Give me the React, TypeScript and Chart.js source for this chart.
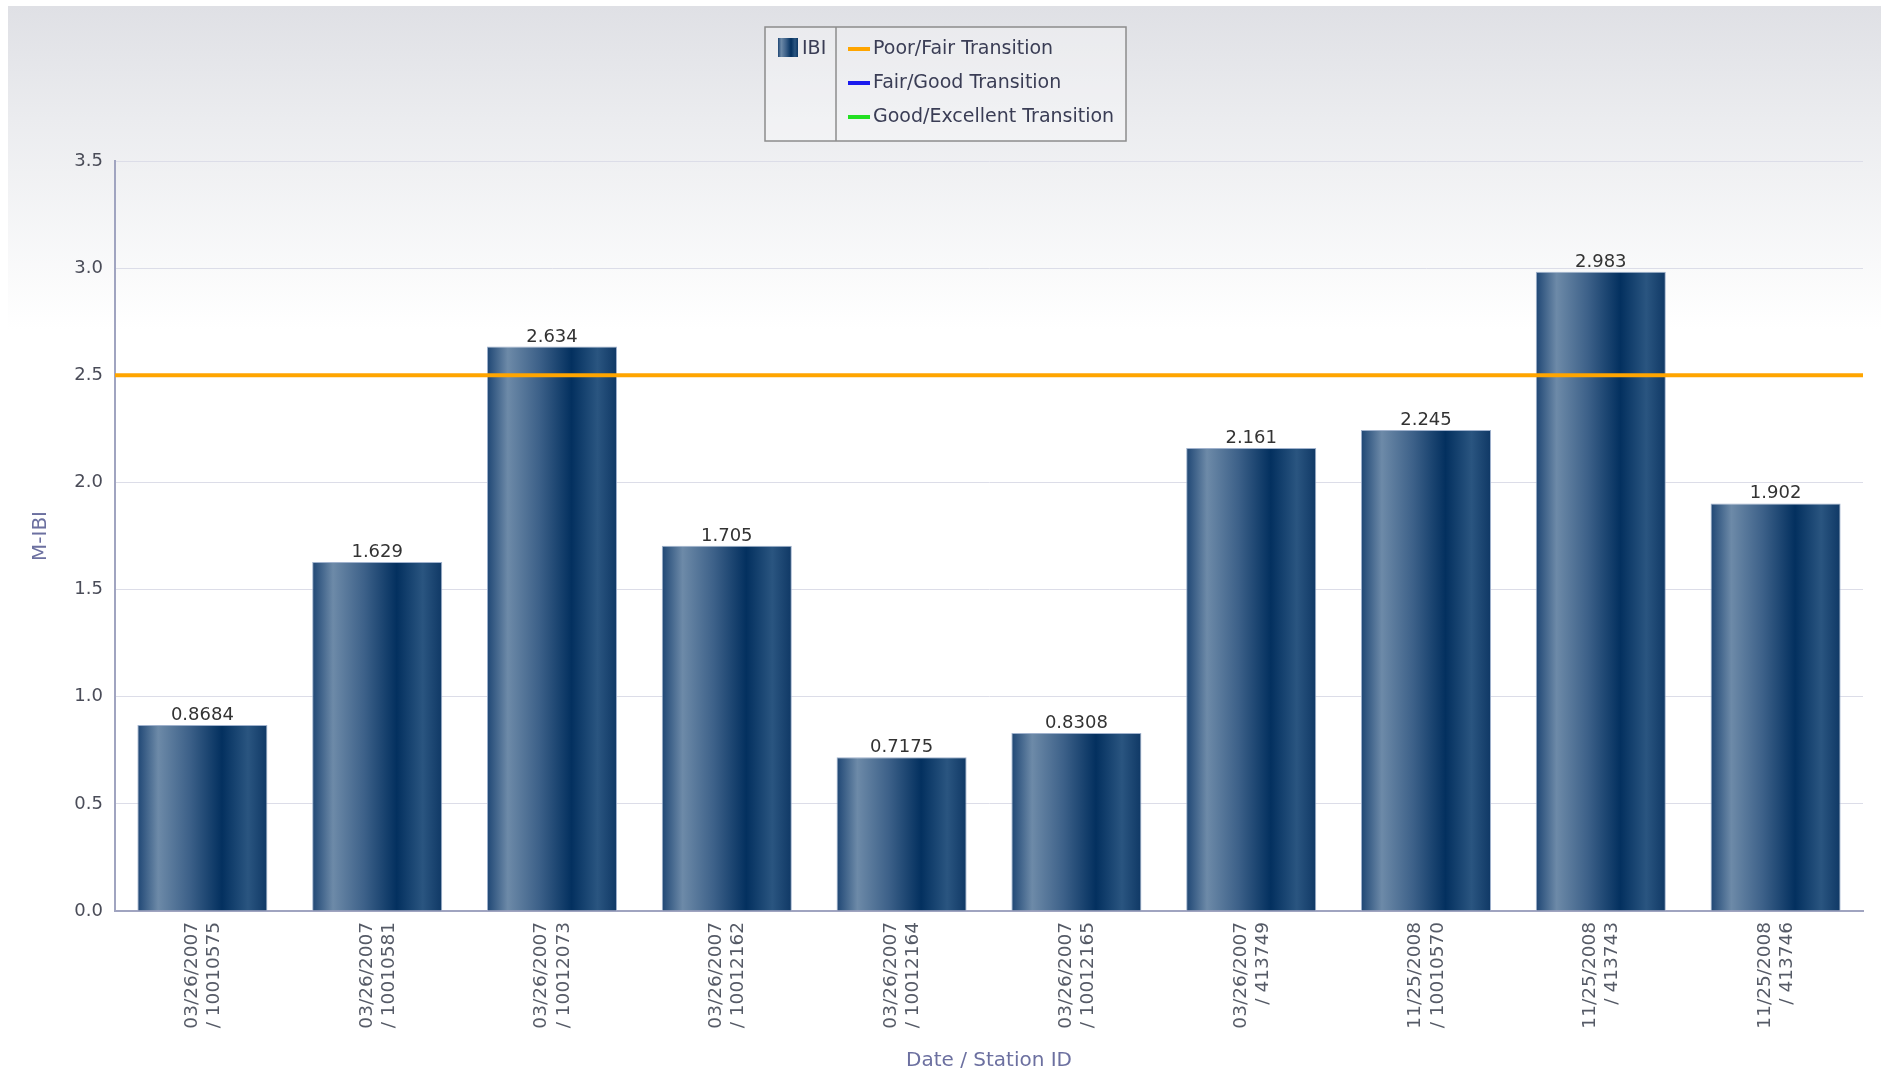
import React, { useEffect, useRef } from "react";
import { Chart, registerables } from "chart.js";

Chart.register(...registerables);

// ---- Data ----
const dates = [
  "03/26/2007", "03/26/2007", "03/26/2007", "03/26/2007", "03/26/2007",
  "03/26/2007", "03/26/2007", "11/25/2008", "11/25/2008", "11/25/2008",
];
const stationIds = [
  "10010575", "10010581", "10012073", "10012162", "10012164",
  "10012165", "413749", "10010570", "413743", "413746",
];
const ibiValues = [0.8684, 1.629, 2.634, 1.705, 0.7175, 0.8308, 2.161, 2.245, 2.983, 1.902];
const ibiLabels = ["0.8684", "1.629", "2.634", "1.705", "0.7175", "0.8308", "2.161", "2.245", "2.983", "1.902"];
const poorFairTransition = 2.5;
const yMin = 0;
const yMax = 3.5;
const yStep = 0.5;
const legendSeries = ["IBI"];
const legendLines = ["Poor/Fair Transition", "Fair/Good Transition", "Good/Excellent Transition"];
const legendLineColors = ["#ffa500", "#1a1aee", "#22e022"];
const xTitle = "Date / Station ID";
const yTitle = "M-IBI";

const FONT = "'DejaVu Sans', Verdana, sans-serif";

function barGradient(ctx: CanvasRenderingContext2D, x0: number, x1: number) {
  const g = ctx.createLinearGradient(x0, 0, x1, 0);
  g.addColorStop(0, "#1e4674");
  g.addColorStop(0.16, "#6d8aa8");
  g.addColorStop(0.4, "#3d6189");
  g.addColorStop(0.65, "#03305f");
  g.addColorStop(0.85, "#2a5580");
  g.addColorStop(1, "#0f3865");
  return g;
}

const decorPlugin = {
  id: "decor",
  beforeDraw(chart: any) {
    const ctx = chart.ctx as CanvasRenderingContext2D;
    ctx.save();
    ctx.fillStyle = "#ffffff";
    ctx.fillRect(0, 0, chart.width, chart.height);
    const g = ctx.createLinearGradient(0, 6, 0, 330);
    g.addColorStop(0, "#dfe0e5");
    g.addColorStop(0.35, "#ebecef");
    g.addColorStop(1, "#ffffff");
    ctx.fillStyle = g;
    ctx.fillRect(8, 6, chart.width - 10, 330);
    ctx.restore();
  },
  afterDatasetsDraw(chart: any) {
    const ctx = chart.ctx as CanvasRenderingContext2D;
    const { chartArea, scales } = chart;
    const y = scales.y.getPixelForValue(poorFairTransition);
    ctx.save();
    ctx.strokeStyle = "#ffa500";
    ctx.lineWidth = 4;
    ctx.beginPath();
    ctx.moveTo(chartArea.left, y);
    ctx.lineTo(chartArea.right, y);
    ctx.stroke();

    // data labels
    const meta = chart.getDatasetMeta(0);
    ctx.font = `18px ${FONT}`;
    ctx.fillStyle = "#333333";
    ctx.textAlign = "center";
    ctx.textBaseline = "alphabetic";
    meta.data.forEach((bar: any, i: number) => {
      ctx.fillText(ibiLabels[i], bar.x, bar.y - 5);
    });
    ctx.restore();
  },
  afterDraw(chart: any) {
    const ctx = chart.ctx as CanvasRenderingContext2D;
    const { chartArea } = chart;
    ctx.save();
    // axis titles
    ctx.fillStyle = "#6c70a0";
    ctx.font = `20px ${FONT}`;
    ctx.textAlign = "center";
    ctx.textBaseline = "middle";
    ctx.fillText(xTitle, (chartArea.left + chartArea.right) / 2, 1061);
    ctx.save();
    ctx.translate(41, (chartArea.top + chartArea.bottom) / 2);
    ctx.rotate(-Math.PI / 2);
    ctx.fillText(yTitle, 0, 0);
    ctx.restore();

    // legend
    const bx = 765, by = 27, bw = 361, bh = 114, div = 836;
    ctx.fillStyle = "rgba(255,255,255,0.3)";
    ctx.fillRect(bx, by, bw, bh);
    ctx.strokeStyle = "#8c8c8c";
    ctx.lineWidth = 1.5;
    ctx.strokeRect(bx, by, bw, bh);
    ctx.beginPath();
    ctx.moveTo(div, by);
    ctx.lineTo(div, by + bh);
    ctx.stroke();

    ctx.fillStyle = barGradient(ctx, 778, 798);
    ctx.fillRect(778, 38, 20, 19);
    ctx.font = `19px ${FONT}`;
    ctx.textAlign = "left";
    ctx.textBaseline = "middle";
    ctx.fillStyle = "#3a3d55";
    ctx.fillText(legendSeries[0], 802, 49);

    const rows = [49, 83, 117];
    legendLines.forEach((label, i) => {
      ctx.strokeStyle = legendLineColors[i];
      ctx.lineWidth = 4;
      ctx.beginPath();
      ctx.moveTo(848, rows[i]);
      ctx.lineTo(870, rows[i]);
      ctx.stroke();
      ctx.fillStyle = "#3a3d55";
      ctx.fillText(label, 873, rows[i]);
    });
    ctx.restore();
  },
};

export default function App() {
  const canvasRef = useRef<HTMLCanvasElement | null>(null);

  useEffect(() => {
    const canvas = canvasRef.current;
    if (!canvas) return;
    const labels = dates.map((d, i) => [d, "/ " + stationIds[i]]);
    const chart = new Chart(canvas, {
      type: "bar",
      data: {
        labels,
        datasets: [
          {
            label: legendSeries[0],
            data: ibiValues,
            categoryPercentage: 1,
            barPercentage: 0.744,
            borderWidth: 1,
            borderColor: "rgba(150,170,200,0.9)",
            backgroundColor: (c: any) => {
              const ch = c.chart;
              const xs = ch.scales && ch.scales.x;
              if (!xs || xs.width === undefined || !isFinite(xs.getPixelForValue(c.dataIndex))) return "#1e4674";
              const cx = xs.getPixelForValue(c.dataIndex);
              const w = (xs.width / labels.length) * 0.744;
              return barGradient(ch.ctx, cx - w / 2, cx + w / 2);
            },
          },
        ],
      },
      options: {
        responsive: false,
        animation: false,
        layout: { padding: { top: 161, right: 20, left: 0, bottom: 0 } },
        plugins: {
          legend: { display: false },
          tooltip: { enabled: false },
          title: { display: false },
        },
        scales: {
          x: {
            grid: { display: true, color: "transparent", drawTicks: false },
            border: { display: true, color: "#a0a4c0", width: 2 },
            ticks: {
              autoSkip: false,
              maxRotation: 90,
              minRotation: 90,
              padding: 11,
              labelOffset: -10.5,
              color: "#555a66",
              font: { family: FONT, size: 18.5 },
            },
            afterFit: (s: any) => {
              s.height = 164;
            },
          },
          y: {
            min: yMin,
            max: yMax,
            ticks: {
              stepSize: yStep,
              padding: 12,
              color: "#4a4c58",
              font: { family: FONT, size: 18 },
              callback: (v: any) => Number(v).toFixed(1),
            },
            grid: { color: "#dcdde8", lineWidth: 1, drawTicks: false },
            border: { display: true, color: "#a0a4c0", width: 2 },
            afterFit: (s: any) => {
              s.width = 115;
            },
          },
        },
      },
      plugins: [decorPlugin],
    });
    return () => chart.destroy();
  }, []);

  return (
    <div style={{ position: "fixed", left: 0, top: 0, width: 1883, height: 1075, background: "#fff" }}>
      <canvas ref={canvasRef} width={1883} height={1075} style={{ display: "block", width: 1883, height: 1075 }} />
    </div>
  );
}
